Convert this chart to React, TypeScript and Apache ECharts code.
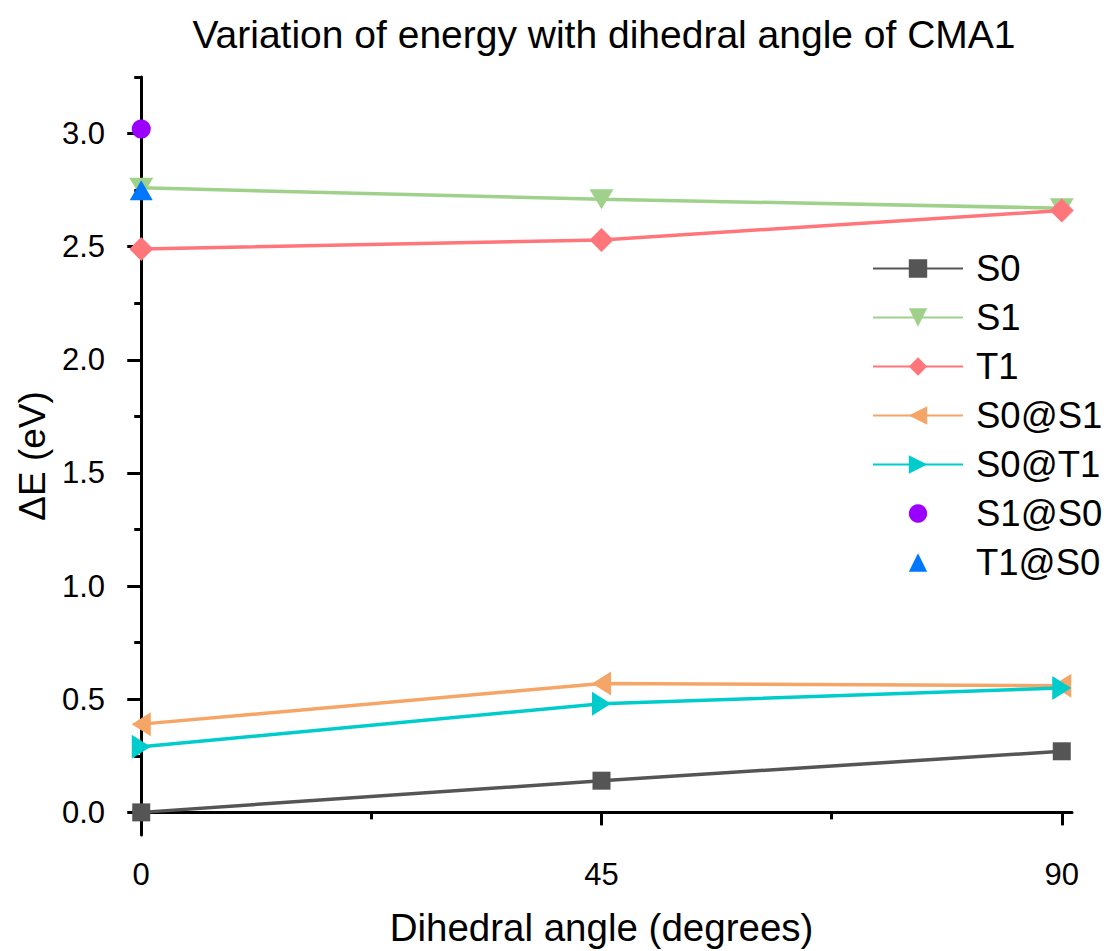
import React, { useEffect, useRef } from "react";
import * as echarts from "echarts";

// Dihedral angles (degrees) at which energies were computed
const angles = [0, 45, 90];

// Energies ΔE (eV) for each state
const s0 = [0.0, 0.14, 0.27];
const s1 = [2.76, 2.71, 2.67];
const t1 = [2.49, 2.53, 2.66];
const s0AtS1 = [0.39, 0.57, 0.56];
const s0AtT1 = [0.29, 0.48, 0.55];
const s1AtS0 = [3.02];
const t1AtS0 = [2.75];

// Axis ticks
const xMajorTicks = [0, 45, 90];
const xMinorTicks = [22.5, 67.5];
const yMajorTicks = [0, 0.5, 1.0, 1.5, 2.0, 2.5, 3.0];
const yMinorTicks = [0.25, 0.75, 1.25, 1.75, 2.25, 2.75, 3.25];

const FONT = "'Liberation Sans', Arial, Helvetica, sans-serif";

const pairs = (xs: number[], ys: number[]) => ys.map((y, i) => [xs[i], y]);

export default function App() {
  const ref = useRef<HTMLDivElement>(null);

  useEffect(() => {
    if (!ref.current) return;
    const chart = echarts.init(ref.current, null, { renderer: "svg" });

    const axisLine = { show: true, lineStyle: { color: "#000", width: 3 } };

    const series = (
      name: string,
      data: number[],
      color: string,
      symbol: string,
      size: number | number[],
      rotate = 0,
      withLine = true
    ) => ({
      name,
      type: "line",
      xAxisIndex: 0,
      yAxisIndex: 0,
      data: pairs(angles, data),
      symbol,
      symbolSize: size,
      symbolRotate: rotate,
      showAllSymbol: true,
      lineStyle: withLine ? { color, width: 3.5 } : { color, width: 0, opacity: 0 },
      itemStyle: { color },
      emphasis: { disabled: true },
    });

    chart.setOption({
      animation: false,
      backgroundColor: "#fff",
      textStyle: { fontFamily: FONT },
      title: {
        text: "Variation of energy with dihedral angle of CMA1",
        left: 599,
        top: 10,
        textAlign: "center",
        textStyle: { fontFamily: FONT, fontSize: 39, fontWeight: "normal", color: "#000" },
      },
      grid: { left: 131, right: 38, top: 77, bottom: 116, outerBoundsMode: "none" },
      legend: {
        orient: "vertical",
        left: 867,
        top: 245,
        itemWidth: 90,
        itemHeight: 23,
        itemGap: 12,
        textStyle: { fontFamily: FONT, fontSize: 36.5, color: "#000", padding: [0, 0, 0, 8] },
        data: ["S0", "S1", "T1", "S0@S1", "S0@T1", "S1@S0", "T1@S0"],
      },
      xAxis: [
        {
          type: "value",
          position: "bottom",
          min: -1,
          max: 91,
          name: "Dihedral angle (degrees)",
          nameLocation: "middle",
          nameGap: 73,
          nameTextStyle: { fontFamily: FONT, fontSize: 38.5, color: "#000" },
          axisLine,
          axisTick: { show: true, customValues: xMajorTicks, length: 13, lineStyle: { color: "#000", width: 3 } },
          axisLabel: { customValues: xMajorTicks, fontFamily: FONT, fontSize: 31, color: "#000", margin: 24 },
          splitLine: { show: false },
        },
        {
          type: "value",
          position: "bottom",
          min: -1,
          max: 91,
          axisLine: { show: false },
          axisTick: { show: true, customValues: xMinorTicks, length: 7, lineStyle: { color: "#000", width: 3 } },
          axisLabel: { show: false },
          splitLine: { show: false },
        },
      ],
      yAxis: [
        {
          type: "value",
          position: "left",
          min: -0.1,
          max: 3.25,
          name: "ΔE (eV)",
          nameLocation: "middle",
          nameGap: 70,
          nameRotate: 90,
          nameTextStyle: { fontFamily: FONT, fontSize: 37, color: "#000" },
          axisLine,
          axisTick: { show: true, customValues: yMajorTicks, length: 14, lineStyle: { color: "#000", width: 3 } },
          axisLabel: {
            customValues: yMajorTicks,
            fontFamily: FONT,
            fontSize: 31,
            color: "#000",
            margin: 26,
            formatter: (v: number) => v.toFixed(1),
          },
          splitLine: { show: false },
        },
        {
          type: "value",
          position: "left",
          min: -0.1,
          max: 3.25,
          axisLine: { show: false },
          axisTick: { show: true, customValues: yMinorTicks, length: 7, lineStyle: { color: "#000", width: 3 } },
          axisLabel: { show: false },
          splitLine: { show: false },
        },
      ],
      series: [
        series("S0", s0, "#555555", "rect", 18),
        series("S1", s1, "#9fd18b", "triangle", [24, 20], 180),
        series("T1", t1, "#ff767a", "diamond", 24),
        series("S0@S1", s0AtS1, "#f5a566", "triangle", [24, 19], 90),
        series("S0@T1", s0AtT1, "#00cccc", "triangle", [24, 19], -90),
        series("S1@S0", s1AtS0, "#9b00ff", "circle", 19, 0, false),
        series("T1@S0", t1AtS0, "#0077ff", "triangle", [23, 20], 0, false),
      ],
    });

    return () => chart.dispose();
  }, []);

  return (
    <div
      ref={ref}
      style={{ position: "fixed", left: 0, top: 0, width: 1110, height: 951 }}
    />
  );
}
